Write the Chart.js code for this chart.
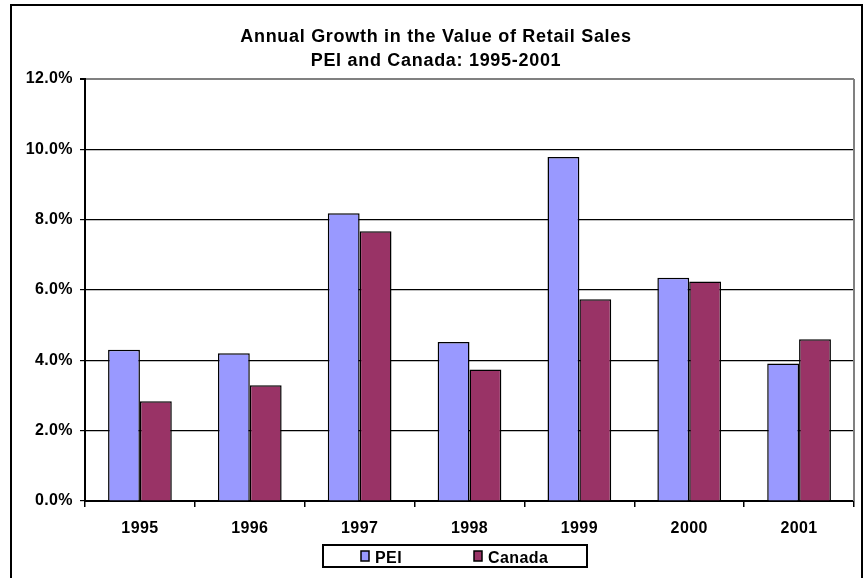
<!DOCTYPE html>
<html>
<head>
<meta charset="utf-8">
<script src="https://cdn.jsdelivr.net/npm/chart.js@4.4.1/dist/chart.umd.min.js"></script>
<style>
  html, body { margin: 0; padding: 0; background: #fff; }
  #wrap { width: 867px; height: 578px; position: relative; }
</style>
</head>
<body>
<div id="wrap"><canvas id="salesChart"></canvas></div>
<script>
const years = ['1995', '1996', '1997', '1998', '1999', '2000', '2001'];
const peiGrowth = [4.3, 4.2, 8.18, 4.52, 9.78, 6.35, 3.91];
const canadaGrowth = [2.84, 3.29, 7.67, 3.74, 5.74, 6.24, 4.6];
const titleLines = ['Annual Growth in the Value of Retail Sales', 'PEI and Canada: 1995-2001'];

const FONT = '"Liberation Sans", Arial, sans-serif';

// a little extra letter spacing, like the old Excel rendering
const spacing = {
  id: 'spacing',
  beforeDraw(chart) {
    chart.ctx.letterSpacing = '0.4px';
  }
};

// frame, title, gray plot border and boxed legend
const decorations = {
  id: 'decorations',
  afterDraw(chart) {
    const { ctx, chartArea: a } = chart;
    ctx.save();
    // outer frame
    ctx.strokeStyle = '#000';
    ctx.lineWidth = 2;
    ctx.strokeRect(11, 5, 851, 590);

    // gray right border of plot area
    ctx.strokeStyle = '#808080';
    ctx.lineWidth = 2;
    ctx.beginPath();
    ctx.moveTo(a.right, a.top);
    ctx.lineTo(a.right, a.bottom);
    ctx.stroke();

    // title
    ctx.fillStyle = '#000';
    ctx.textAlign = 'center';
    ctx.textBaseline = 'alphabetic';
    ctx.letterSpacing = '0.7px';
    ctx.font = 'bold 18px ' + FONT;
    ctx.fillText(titleLines[0], 436, 42);
    ctx.fillText(titleLines[1], 436, 66);

    // legend
    const lx = 323, ly = 545, lw = 264, lh = 22;
    ctx.strokeStyle = '#000';
    ctx.lineWidth = 2;
    ctx.strokeRect(lx, ly, lw, lh);
    const items = chart.data.datasets.map(d => ({ label: d.label, color: d.backgroundColor }));
    const starts = [361, 474];
    ctx.textAlign = 'left';
    ctx.letterSpacing = '0.4px';
    ctx.font = 'bold 16px ' + FONT;
    items.forEach((it, i) => {
      const x = starts[i];
      ctx.fillStyle = it.color;
      ctx.fillRect(x, ly + 6, 8, 10);
      ctx.lineWidth = 1.5;
      ctx.strokeRect(x, ly + 6, 8, 10);
      ctx.fillStyle = '#000';
      ctx.fillText(it.label, x + 14, ly + 18);
    });
    ctx.restore();
  }
};

const ctx = document.getElementById('salesChart').getContext('2d');
new Chart(ctx, {
  type: 'bar',
  data: {
    labels: years,
    datasets: [
      {
        label: 'PEI',
        data: peiGrowth,
        backgroundColor: '#9999FF',
        borderColor: '#000',
        borderWidth: 1.5,
        categoryPercentage: 0.58,
        barPercentage: 1.0
      },
      {
        label: 'Canada',
        data: canadaGrowth,
        backgroundColor: '#993366',
        borderColor: '#000',
        borderWidth: 1.5,
        categoryPercentage: 0.58,
        barPercentage: 1.0
      }
    ]
  },
  options: {
    responsive: true,
    maintainAspectRatio: false,
    animation: false,
    layout: { padding: { left: 0, right: 13, top: 79, bottom: 0 } },
    plugins: {
      legend: { display: false },
      tooltip: { enabled: false }
    },
    scales: {
      x: {
        afterFit: s => { s.height = 77; },
        grid: {
          offset: true,
          drawOnChartArea: false,
          drawTicks: true,
          tickLength: 6,
          color: '#000',
          lineWidth: 1.5
        },
        border: { color: '#000', width: 2 },
        ticks: {
          color: '#000',
          padding: 12,
          font: { family: FONT, size: 16, weight: 'bold' }
        }
      },
      y: {
        min: 0,
        max: 12,
        afterFit: s => { s.width = 85; },
        ticks: {
          stepSize: 2,
          color: '#000',
          padding: 7,
          font: { family: FONT, size: 16, weight: 'bold' },
          callback: v => v.toFixed(1) + '%'
        },
        grid: {
          color: c => (c.tick && c.tick.value === 12) ? '#808080' : '#000',
          lineWidth: c => (c.tick && c.tick.value === 12) ? 2 : 1.2,
          tickLength: 5,
          tickColor: '#000'
        },
        border: { color: '#000', width: 2 }
      }
    }
  },
  plugins: [spacing, decorations]
});
</script>
</body>
</html>
